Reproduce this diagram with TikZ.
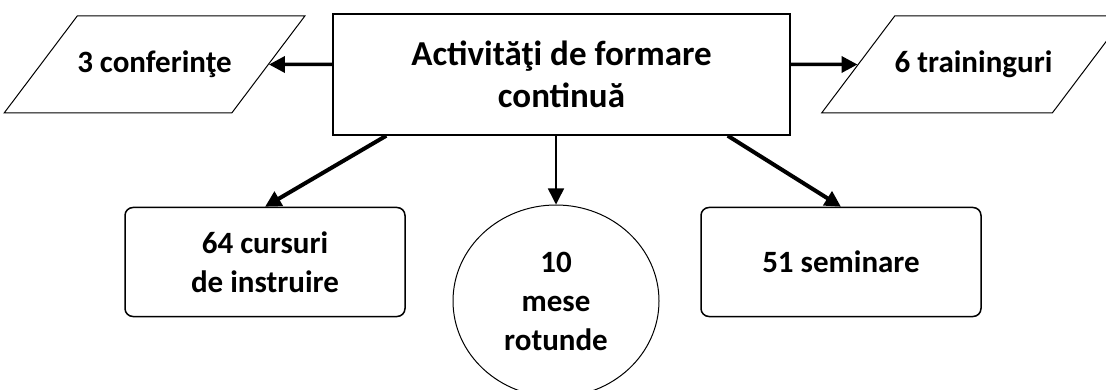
\documentclass[tikz,border=0pt]{standalone}
\usepackage{fontspec}
\setmainfont{Carlito}
\usepackage{tikz}
\usetikzlibrary{shapes,arrows.meta}
\usetikzlibrary{positioning}
\tikzset{
  mainbox/.style={draw, line width=1.5pt, minimum width=457pt, minimum height=121pt,
    align=center, font=\fontsize{35}{42}\selectfont\bfseries},
  parbox/.style={draw, trapezium, trapezium left angle=53, trapezium right angle=127,
    trapezium stretches body=true, minimum width=290pt, text height=23pt, text depth=7pt,
    inner xsep=0pt, inner ysep=33.5pt, line width=1pt, font=\fontsize{31}{39}\selectfont\bfseries},
  roundbox/.style={draw, rounded corners=8pt, line width=1.5pt, minimum width=280pt,
    minimum height=109pt, align=center, font=\fontsize{31}{39}\selectfont\bfseries},
  roundtable/.style={draw, ellipse, minimum width=206pt, minimum height=192pt, line width=1pt,
    align=center, font=\fontsize{31}{39}\selectfont\bfseries}
}

\begin{document}
\begin{tikzpicture}[> = {Triangle[length=16pt,width=16pt]}, x=1pt, y=1pt, on grid]
        \useasboundingbox (0,0) rectangle (1106,-390);
        \node[mainbox]    (act)                                    at (561.5,-74.5) {Activităţi de formare\\continuă};
        \node[parbox]     (conf)  [above left=10pt and 407pt of act]    {3 conferinţe};
        \node[parbox]     (train) [above right=10pt and 412pt of act]   {6 traininguri};
        \node[roundbox]   (curs)  [below left=187.5pt and 296.5pt of act] {64 cursuri\\de instruire};
        \node[roundtable] (mese)  [below left=226.5pt and 5.5pt of act]   {10\\mese\\rotunde};
        \node[roundbox]   (sem)   [below right=187.5pt and 279.5pt of act] {51 seminare};

        \draw[->, line width=3.5pt] (act.west |- conf) -- (conf);
        \draw[->, line width=3.5pt] (act.east |- train) -- (train);
        \draw[->, line width=4pt]   ([xshift=54pt]act.south west) -- (curs.north);
        \draw[->, line width=1.5pt] (act.south -| mese) -- (mese);
        \draw[->, line width=4pt]   ([xshift=-63pt]act.south east) -- (sem.north);
      \end{tikzpicture}
\end{document}
